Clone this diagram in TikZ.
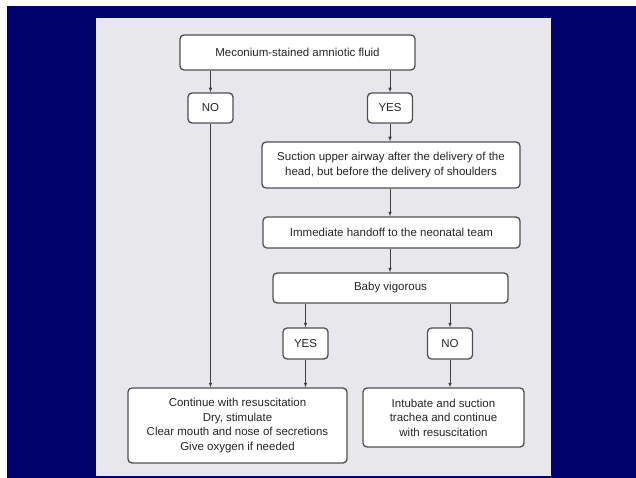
\documentclass[tikz,border=0pt]{standalone}
\usepackage{fontspec}
\setmainfont{Liberation Sans}
\definecolor{nenxanh}{RGB}{2,2,108}
\definecolor{nenxam}{RGB}{232,232,236}
\definecolor{vien}{RGB}{80,80,80}
\begin{document}
\begin{tikzpicture}[x=1pt,y=-1pt]
		\tikzset{
			every node/.style={font=\fontsize{11.5}{14.5}\selectfont,text=black!85},
			%
			hop/.style={draw=vien,line width=1.3pt,rounded corners=4pt,fill=white,align=center,inner sep=2pt},
			% o nho
			hopnho/.style={hop,minimum width=45pt,minimum height=30pt},
			% mui ten
			muiten/.style={-latex,draw=black!75,line width=.6pt},
		}
		%
		\useasboundingbox (0,0) rectangle (636,478);
		\fill[white] (0,0) rectangle (636,478);
		\fill[nenxanh] (7,6) rectangle (636,478);
		\fill[nenxam] (96,18) rectangle (551,476);
		%
		\draw
		(297.5,52.5)node[hop,minimum width=235pt,minimum height=35pt](dich){Meconium-stained amniotic fluid}
		(210.5,108)node[hopnho](khong1){NO}
		(390,108)node[hopnho](co1){YES}
		(391,165)node[hop,minimum width=258pt,minimum height=46pt](hut){Suction upper airway after the delivery of the\\head, but before the delivery of shoulders}
		(391.5,232.5)node[hop,minimum width=257pt,minimum height=31pt](giao){Immediate handoff to the neonatal team}
		(390.5,288)node[hop,minimum width=235pt,minimum height=30pt](khoe){Baby vigorous}
		(305.5,343.5)node[hopnho,minimum height=31pt](co2){YES}
		(450,343.5)node[hopnho,minimum height=31pt](khong2){NO}
		(237.5,425.5)node[hop,minimum width=219pt,minimum height=75pt](tiep){Continue with resuscitation\\Dry, stimulate\\Clear mouth and nose of secretions\\Give oxygen if needed}
		(443.5,417.5)node[hop,minimum width=161pt,minimum height=59pt](dat){Intubate and suction\\trachea and continue\\with resuscitation}
		;
		%
		\draw[muiten](dich.south-|khong1)--(khong1);
		\draw[muiten](dich.south-|co1)--(co1);
		\draw[muiten](co1)--(hut.north-|co1);
		\draw[muiten](hut.south-|co1)--(giao.north-|co1);
		\draw[muiten](giao.south-|co1)--(khoe.north-|co1);
		\draw[muiten](khoe.south-|co2)--(co2);
		\draw[muiten](khoe.south-|khong2)--(khong2);
		\draw[muiten](khong1)--(tiep.north-|khong1);
		\draw[muiten](co2)--(tiep.north-|co2);
		\draw[muiten](khong2)--(dat.north-|khong2);
\end{tikzpicture}
\end{document}
